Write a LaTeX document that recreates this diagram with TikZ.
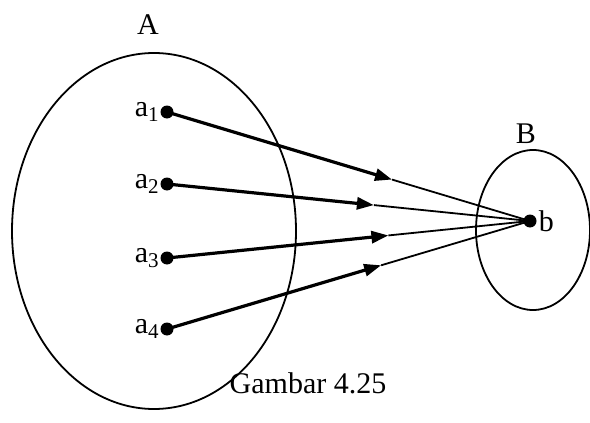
\documentclass[tikz,border=0pt]{standalone}
\usepackage{fontspec}
\setmainfont{Liberation Serif}
\usetikzlibrary{shapes.geometric, arrows.meta, positioning, calc}

\begin{document}
\begin{tikzpicture}[
    x=1pt, y=-1pt,
    font=\fontsize{30}{34}\selectfont,
    setbox/.style={draw, ellipse, line width=1.8pt, inner sep=0pt},
    elem/.style={circle, fill=black, minimum size=13pt, inner sep=0pt},
    thickarrow/.style={-{Triangle[length=17pt, width=12pt]}, line width=3.2pt},
    thinline/.style={line width=1.8pt}
]
\useasboundingbox (0,0) rectangle (590,423);

% himpunan
\node[setbox, minimum width=284pt, minimum height=356pt] (setA) at (154,231) {};
\node[setbox, minimum width=114pt, minimum height=160pt] (setB) at (533,230) {};
\node (labA) at (148,25) {A};
\node (labB) at (526,134) {B};

% elemen
\node[elem, label={[inner sep=1pt]left:a\textsubscript{1}}] (a1) at (167,112) {};
\node[elem, label={[inner sep=1pt]left:a\textsubscript{2}}] (a2) at (167,184) {};
\node[elem, label={[inner sep=1pt]left:a\textsubscript{3}}] (a3) at (167,258) {};
\node[elem, label={[inner sep=1pt]left:a\textsubscript{4}}] (a4) at (167,329) {};
\node[elem, label={[inner sep=2pt]right:b}] (b) at (530,221) {};

\coordinate (m1) at ($(a1)!0.62!(b)$);
\coordinate (m2) at ($(a2)!0.57!(b)$);
\coordinate (m3) at ($(a3)!0.61!(b)$);
\coordinate (m4) at ($(a4)!0.59!(b)$);

\foreach \i in {1,...,4}{
  \draw[thickarrow] (a\i.center) -- (m\i);
  \draw[thinline] (m\i) -- (b.center);
}

\node (caption) at (308,383) {Gambar 4.25};
\end{tikzpicture}
\end{document}
